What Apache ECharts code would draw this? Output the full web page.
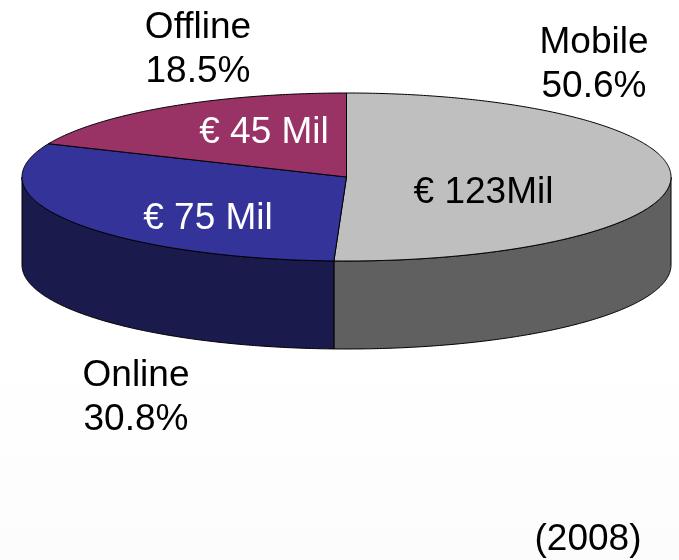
<!DOCTYPE html>
<html>
<head>
<meta charset="utf-8">
<style>html,body{margin:0;padding:0;background:#fff}#c{width:679px;height:560px}</style>
<script src="https://cdn.jsdelivr.net/npm/echarts@6/dist/echarts.min.js"></script>
</head>
<body>
<div id="c"></div>
<script>
const categories = ['Mobile', 'Online', 'Offline'];
const shares = [50.6, 30.8, 18.5];
const amounts = [123, 75, 45];
const amountLabels = ['€ 123Mil', '€ 75 Mil', '€ 45 Mil'];
const yearLabel = '(2008)';

const topColors = ['#BFBFBF', '#333399', '#993366'];
const sideColors = ['#606060', '#1A1A4C', '#4C1A33'];
const amountColors = ['#000000', '#FFFFFF', '#FFFFFF'];
const amountPos = [[483.5, 193], [208, 219], [264, 133]];
const namePos = [[594, 65], [136, 397.5], [198, 50]];

const CX = 346.5, CY = 177, RX = 324.5, RY = 84, DEPTH = 88, FS = 37;
const FONT = '"Liberation Sans", Arial, sans-serif';
const total = amounts.reduce((a, b) => a + b, 0);
const STROKE = { stroke: '#000', lineWidth: 1, lineJoin: 'round' };

function pt(a, dy) { return [CX + RX * Math.sin(a), CY + (dy || 0) - RY * Math.cos(a)]; }
function arc(a0, a1, dy) {
  const n = Math.max(2, Math.ceil(Math.abs(a1 - a0) / 0.01));
  const out = [];
  for (let i = 0; i <= n; i++) out.push(pt(a0 + (a1 - a0) * i / n, dy));
  return out;
}
function renderItem(params, api) {
  const i = params.dataIndex;
  const before = amounts.slice(0, i).reduce((a, b) => a + b, 0);
  const a0 = before / total * 2 * Math.PI;
  const a1 = a0 + api.value(1) / total * 2 * Math.PI;
  const children = [];
  const w0 = Math.max(a0, Math.PI / 2), w1 = Math.min(a1, Math.PI * 1.5);
  if (w1 > w0) {
    const wall = arc(w0, w1, 0).concat(arc(w1, w0, DEPTH));
    children.push({ type: 'polygon', shape: { points: wall }, style: Object.assign({ fill: sideColors[i] }, STROKE) });
  }
  children.push({
    type: 'polygon',
    shape: { points: [[CX, CY]].concat(arc(a0, a1, 0)) },
    style: Object.assign({ fill: topColors[i] }, STROKE)
  });
  return { type: 'group', children };
}
function txt(text, pos, color, z) {
  return { type: 'text', x: pos[0], y: pos[1], z: z || 10,
    style: { text, fill: color, font: FS + 'px ' + FONT, textAlign: 'center', textVerticalAlign: 'middle', lineHeight: 44 } };
}
const graphics = [];
categories.forEach((c, i) => {
  graphics.push(txt(amountLabels[i], amountPos[i], amountColors[i]));
  graphics.push(txt(c + '\n' + shares[i].toFixed(1) + '%', namePos[i], '#000'));
});
graphics.push(txt(yearLabel, [588, 540], '#000'));

const chart = echarts.init(document.getElementById('c'), null, { renderer: 'canvas' });
chart.setOption({
  animation: false,
  backgroundColor: { type: 'linear', x: 0, y: 0, x2: 0, y2: 1,
    colorStops: [{ offset: 0, color: '#FFFFFF' }, { offset: 0.62, color: '#FFFFFF' }, { offset: 1, color: '#FCFCFC' }] },
  tooltip: { show: false },
  series: [{
    type: 'custom',
    coordinateSystem: 'none',
    renderItem,
    silent: true,
    data: categories.map((c, i) => [i, amounts[i]])
  }],
  graphic: { elements: graphics }
});
</script>
</body>
</html>
